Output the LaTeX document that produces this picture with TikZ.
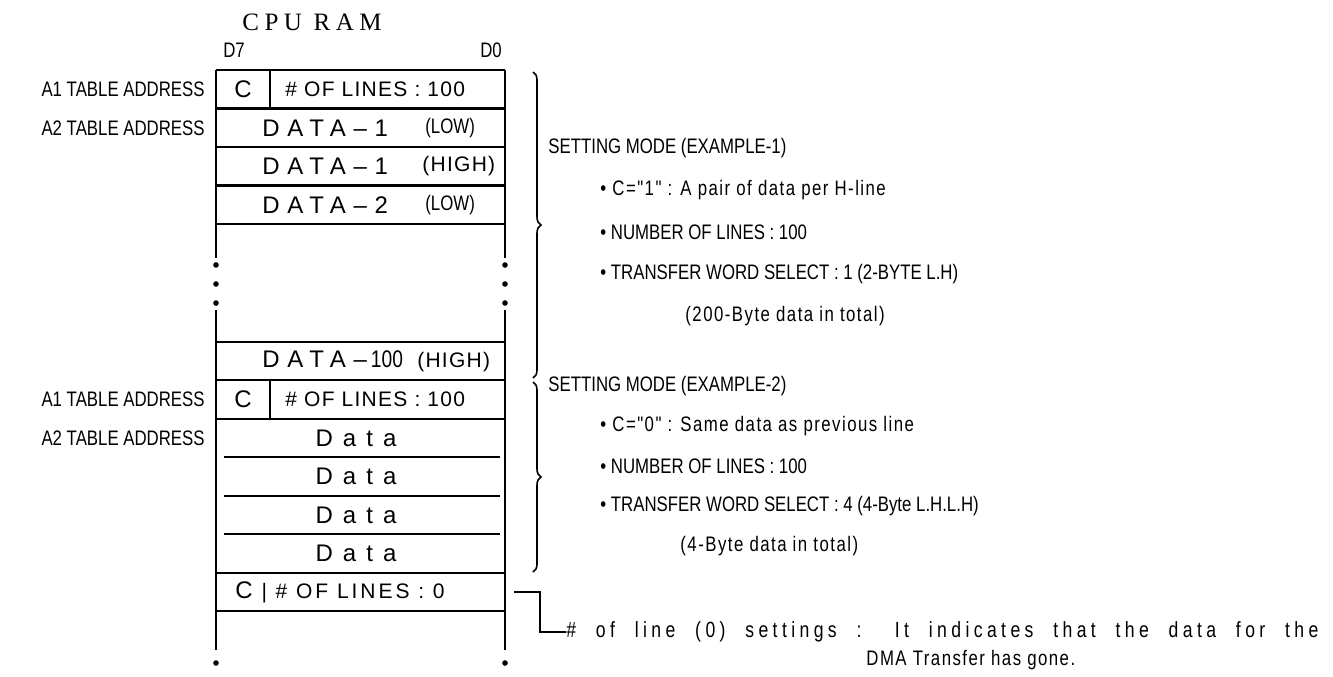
\documentclass[tikz,border=0pt]{standalone}
\usepackage{fontspec}
\setmainfont{Liberation Sans}
\newfontfamily\cond[FakeStretch=0.8]{Liberation Sans}
\newfontfamily\condsp[FakeStretch=0.8,LetterSpace=7]{Liberation Sans}
\newfontfamily\condwide[FakeStretch=0.8,LetterSpace=20]{Liberation Sans}
\newfontfamily\cellfont[LetterSpace=6]{Liberation Sans}
\newfontfamily\cellwide[LetterSpace=14]{Liberation Sans}
\newfontfamily\wideser[LetterSpace=22]{Liberation Serif}
\newfontfamily\widesans[LetterSpace=32]{Liberation Sans}
\newfontfamily\datafont[LetterSpace=42]{Liberation Sans}
\usetikzlibrary{decorations.pathreplacing}
\tikzset{
  lbl/.style={font=\cond\fontsize{10.5}{12}\selectfont, anchor=east, inner sep=0},
  rtxt/.style={font=\cond\fontsize{10.5}{12}\selectfont, anchor=west, inner sep=0},
  rtxtsp/.style={font=\condsp\fontsize{10.5}{12}\selectfont, anchor=west, inner sep=0},
  celltxt/.style={font=\cellfont\fontsize{10.5}{12}\selectfont, inner sep=0},
  smalltxt/.style={font=\cond\fontsize{10.5}{12}\selectfont, inner sep=0},
  bigtxt/.style={font=\widesans\fontsize{12}{14}\selectfont, inner sep=0},
  datatxt/.style={font=\datafont\fontsize{12}{14}\selectfont, inner sep=0},
  boxline/.style={line width=1.2pt},
  ramdot/.style={circle, fill, inner sep=0, minimum size=2.8pt},
  brc/.style={decorate, decoration={brace, amplitude=4pt}, line width=0.8pt},
  hook/.style={line width=0.9pt}
}
\begin{document}
\begin{tikzpicture}[x=0.5pt,y=-0.5pt]
\useasboundingbox (0,0) rectangle (1333,676);
% title
\node[font=\wideser\fontsize{12.5}{14}\selectfont, inner sep=0] (title) at (312,22) {CPU RAM};
\node[smalltxt] (d7) at (234,50) {D7};
\node[smalltxt] (d0) at (491,50) {D0};
% box frame
\draw[boxline] (216,70) -- (505,70);
\draw[boxline] (216,70) -- (216,258);
\draw[boxline] (505,70) -- (505,258);
\draw[boxline] (216,310) -- (216,650);
\draw[boxline] (505,310) -- (505,650);
% row lines top block
\foreach \yy in {108.5,147,185.5,224} \draw[boxline] (216,\yy) -- (505,\yy);
\draw[boxline] (270,70) -- (270,108.5);
% row lines lower block
\foreach \yy in {342,380,419,573,611} \draw[boxline] (216,\yy) -- (505,\yy);
\foreach \yy in {457,496,534} \draw[boxline] (224,\yy) -- (500,\yy);
\draw[boxline] (270,380) -- (270,419);
% dots
\node[ramdot] (dl1) at (216,265) {};
\node[ramdot] (dl2) at (216,284) {};
\node[ramdot] (dl3) at (216,303) {};
\node[ramdot] (dr1) at (505,265) {};
\node[ramdot] (dr2) at (505,284) {};
\node[ramdot] (dr3) at (505,303) {};
\node[ramdot] (dl4) at (216,663) {};
\node[ramdot] (dr4) at (505,663) {};
% cell texts
\node[font=\fontsize{12}{14}\selectfont, inner sep=0] (c1) at (243,89) {C};
\node[celltxt, anchor=west] (n1) at (285,89) {\# OF LINES : 100};
\node[bigtxt, anchor=west] (r2) at (262,128) {DATA\textendash 1};
\node[smalltxt, anchor=west] (r2b) at (425,128) {(LOW)};
\node[bigtxt, anchor=west] (r3) at (262,166) {DATA\textendash 1};
\node[celltxt, anchor=west] (r3b) at (422,166) {(HIGH)};
\node[bigtxt, anchor=west] (r4) at (262,205) {DATA\textendash 2};
\node[smalltxt, anchor=west] (r4b) at (425,205) {(LOW)};
\node[bigtxt, anchor=west] (r5) at (262,361) {DATA\textendash\hspace{2pt}{\cond\fontsize{12}{14}\selectfont 100} {\cellfont\fontsize{10.5}{12}\selectfont (HIGH)}};
\node[font=\fontsize{12}{14}\selectfont, inner sep=0] (c2) at (243,399.5) {C};
\node[celltxt, anchor=west] (n2) at (285,399.5) {\# OF LINES : 100};
\node[datatxt] (da1) at (356,438) {Data};
\node[datatxt] (da2) at (356,476.5) {Data};
\node[datatxt] (da3) at (356,515) {Data};
\node[datatxt] (da4) at (356,553.5) {Data};
\node[font=\cellwide\fontsize{10.5}{12}\selectfont, inner sep=0, anchor=west] (c0) at (235,592) {{\fontsize{12}{14}\selectfont C} | \# OF LINES : 0};
% left labels
\node[lbl] (a1a) at (205,89) {A1 TABLE ADDRESS};
\node[lbl] (a2a) at (205,128) {A2 TABLE ADDRESS};
\node[lbl] (a1b) at (205,399.5) {A1 TABLE ADDRESS};
\node[lbl] (a2b) at (205,438) {A2 TABLE ADDRESS};
% braces
\coordinate (b1t) at (533,72);
\coordinate (b1b) at (533,378);
\coordinate (b2t) at (533,382);
\coordinate (b2b) at (533,572);
\draw[brc] (b1t) -- (b1b);
\draw[brc] (b2t) -- (b2b);
% example 1 text
\node[rtxt] (s1) at (548,148) {SETTING MODE (EXAMPLE-1)};
\node[rtxtsp] (s1a) at (600,190) {\textbullet\ C="1" : A pair of data per H-line};
\node[rtxt] (s1b) at (600,232) {\textbullet\ NUMBER OF LINES : 100};
\node[rtxt] (s1c) at (600,274) {\textbullet\ TRANSFER WORD SELECT : 1 (2-BYTE L.H)};
\node[rtxtsp] (s1d) at (685,316) {(200-Byte data in total)};
% example 2 text
\node[rtxt] (s2) at (548,386) {SETTING MODE (EXAMPLE-2)};
\node[rtxtsp] (s2a) at (600,426) {\textbullet\ C="0" : Same data as previous line};
\node[rtxt] (s2b) at (600,466) {\textbullet\ NUMBER OF LINES : 100};
\node[rtxt] (s2c) at (600,506) {\textbullet\ TRANSFER WORD SELECT : 4 (4-Byte L.H.L.H)};
\node[rtxtsp] (s2d) at (680,546) {(4-Byte data in total)};
% end hook
\coordinate (h0) at (514,592);
\coordinate (h1) at (540,592);
\coordinate (h2) at (540,632);
\node[font=\condwide\fontsize{11}{13}\selectfont, anchor=west, inner sep=0] (endtxt) at (566,632) {\makebox[376pt][s]{\# of line (0) settings : It indicates that the data for the}};
\node[rtxtsp] (endtxt2) at (866,660) {DMA Transfer has gone.};
\draw[hook] (h0) -- (h1) -- (h2) -- (endtxt.west);
\end{tikzpicture}
\end{document}
